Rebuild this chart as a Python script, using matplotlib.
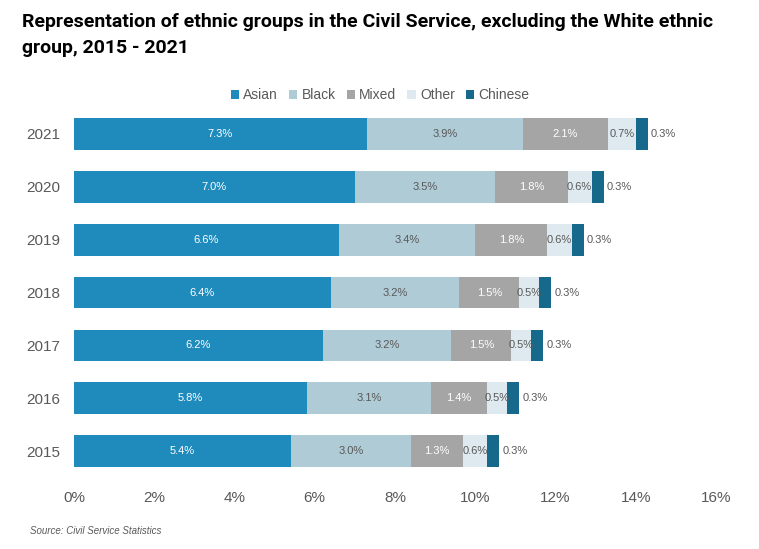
import matplotlib.pyplot as plt
import numpy as np

years = ["2015", "2016", "2017", "2018", "2019", "2020", "2021"]
groups = ["Asian", "Black", "Mixed", "Other", "Chinese"]
asian = [5.4, 5.8, 6.2, 6.4, 6.6, 7.0, 7.3]
black = [3.0, 3.1, 3.2, 3.2, 3.4, 3.5, 3.9]
mixed = [1.3, 1.4, 1.5, 1.5, 1.8, 1.8, 2.1]
other = [0.6, 0.5, 0.5, 0.5, 0.6, 0.6, 0.7]
chinese = [0.3, 0.3, 0.3, 0.3, 0.3, 0.3, 0.3]
xticks = [0, 2, 4, 6, 8, 10, 12, 14, 16]

colors = ["#1f8bbd", "#aecbd6", "#a5a5a5", "#deeaf0", "#16698a"]
label_colors = ["white", "#595959", "white", "#595959", None]

plt.rcParams["font.family"] = ["Liberation Sans", "DejaVu Sans"]

fig = plt.figure(figsize=(7.59, 5.49), dpi=100)
ax = fig.add_axes([74 / 759, 1 - 477.5 / 549, 642 / 759, 370 / 549])

y = np.arange(len(years))
left = np.zeros(len(years))
for name, vals, col, lcol in zip(groups, [asian, black, mixed, other, chinese], colors, label_colors):
    vals = np.array(vals)
    ax.barh(y, vals, left=left, height=0.6, color=col, label=name)
    for yi, l, v in zip(y, left, vals):
        if lcol is None:
            ax.text(l + v + 0.08, yi, "%.1f%%" % v, ha="left", va="center",
                    fontsize=8, color="#595959")
        else:
            ax.text(l + v / 2, yi, "%.1f%%" % v, ha="center", va="center",
                    fontsize=8, color=lcol)
    left += vals

ax.set_xlim(0, 16)
ax.set_ylim(-0.5, 6.5)
ax.set_yticks(y)
ax.set_yticklabels(years)
ax.set_xticks(xticks)
ax.set_xticklabels(["%d%%" % t for t in xticks])
ax.tick_params(length=0, labelsize=11, colors="#595959", pad=10)
ax.tick_params(axis="y", pad=10)
for s in ax.spines.values():
    s.set_visible(False)

fig.legend(loc="center", bbox_to_anchor=(380 / 759, 1 - 95 / 549), ncol=5,
           frameon=False, fontsize=10, handlelength=0.6, handleheight=0.6,
           handletextpad=0.3, columnspacing=0.8, labelcolor="#595959")

title_font = ["Roboto", "DejaVu Sans"]
fig.text(22 / 759, 1 - 22 / 549, "Representation of ethnic groups in the Civil Service, excluding the White ethnic",
         fontsize=14, fontweight="bold", va="center", ha="left", family=title_font)
fig.text(22 / 759, 1 - 48 / 549, "group, 2015 - 2021",
         fontsize=14, fontweight="bold", va="center", ha="left", family=title_font)
fig.text(30 / 759, 1 - 531 / 549, "Source: Civil Service Statistics", fontsize=7,
         style="italic", color="#595959", va="center")

fig.savefig("out.png", dpi=100)
